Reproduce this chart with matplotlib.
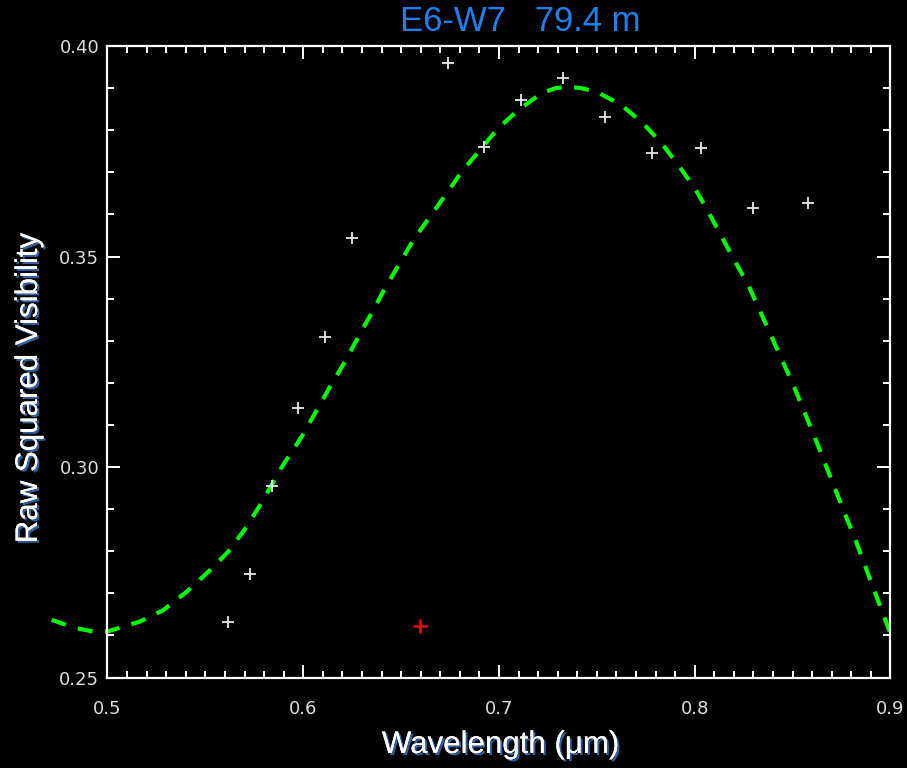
import matplotlib
matplotlib.use('Agg')
import matplotlib.pyplot as plt
import matplotlib.patheffects as pe
from matplotlib.ticker import MultipleLocator, FormatStrFormatter

# measured raw V^2 (white crosses)
wl_obs = [0.5614, 0.5728, 0.5843, 0.5972, 0.6111, 0.6248, 0.6738, 0.6925,
          0.7112, 0.7328, 0.7543, 0.7780, 0.8032, 0.8299, 0.8577]
v2_obs = [0.2631, 0.2746, 0.2956, 0.3141, 0.3309, 0.3544, 0.3960, 0.3761,
          0.3872, 0.3925, 0.3832, 0.3747, 0.3758, 0.3615, 0.3626]

# rejected point (red cross)
wl_bad = [0.6598]
v2_bad = [0.2622]

# model curve (green dashed)
wl_fit = [0.4715, 0.4834, 0.4927, 0.5004, 0.5166, 0.5285, 0.5405, 0.5524,
          0.5617, 0.5711, 0.5796, 0.5881, 0.5992, 0.6069, 0.6137, 0.6213,
          0.6281, 0.6350, 0.6418, 0.6494, 0.6562, 0.6648, 0.6733, 0.6809,
          0.6903, 0.6996, 0.7099, 0.7218, 0.7290, 0.7354, 0.7420, 0.7499,
          0.7618, 0.7729, 0.7831, 0.7916, 0.8001, 0.8069, 0.8138, 0.8206,
          0.8274, 0.8393, 0.8509, 0.8619, 0.8723, 0.8829, 0.8929, 0.8997]
v2_fit = [0.2637, 0.2618, 0.2609, 0.2610, 0.2633, 0.2660, 0.2704, 0.2755,
          0.2799, 0.2858, 0.2922, 0.2993, 0.3072, 0.3135, 0.3191, 0.3250,
          0.3309, 0.3366, 0.3425, 0.3485, 0.3539, 0.3595, 0.3650, 0.3701,
          0.3753, 0.3805, 0.3848, 0.3888, 0.3900, 0.3903, 0.3900, 0.3891,
          0.3862, 0.3820, 0.3769, 0.3717, 0.3662, 0.3606, 0.3547, 0.3488,
          0.3432, 0.3309, 0.3189, 0.3064, 0.2941, 0.2817, 0.2692, 0.2608]

fig = plt.figure(figsize=(9.07, 7.68), dpi=100, facecolor='black')
ax = fig.add_axes([0.1185, 0.1178, 0.8633, 0.8223], facecolor='black')

ax.plot(wl_fit, v2_fit, color='#00ff00', lw=3.0, dashes=(3.6, 3.0), clip_on=False)
ax.plot(wl_obs, v2_obs, ls='none', marker='+', ms=9, mew=1.3, color='#e8e8e8')
ax.plot(wl_bad, v2_bad, ls='none', marker='+', ms=10, mew=1.8, color='#ff0000')

ax.set_xlim(0.5, 0.9)
ax.set_ylim(0.25, 0.40)
ax.xaxis.set_major_locator(MultipleLocator(0.1))
ax.xaxis.set_minor_locator(MultipleLocator(0.01))
ax.yaxis.set_major_locator(MultipleLocator(0.05))
ax.yaxis.set_minor_locator(MultipleLocator(0.01))
ax.xaxis.set_major_formatter(FormatStrFormatter('%.1f'))
ax.yaxis.set_major_formatter(FormatStrFormatter('%.2f'))

for s in ax.spines.values():
    s.set_color('white')
    s.set_linewidth(1.6)

ax.tick_params(which='both', direction='in', colors='white', top=True, right=True,
               width=1.4, labelcolor='#dcdcdc', labelsize=13)
ax.tick_params(which='major', length=9.5)
ax.tick_params(which='minor', length=4.8)
ax.tick_params(axis='x', pad=16)
ax.tick_params(axis='y', pad=6)

shadow = [pe.withSimplePatchShadow(offset=(1.5, -1.5), shadow_rgbFace='#2f5f9f', alpha=1.0),
          pe.Normal()]
fig.text(0.552, 0.030, 'Wavelength (\u03bcm)', color='white', fontsize=22.5,
         family='Liberation Sans', ha='center', va='center', path_effects=shadow)
fig.text(0.032, 0.495, 'Raw Squared Visibility', color='white', fontsize=22.5,
         family='Liberation Sans', ha='center', va='center', rotation=90,
         path_effects=shadow)
fig.text(0.574, 0.972, 'E6-W7   79.4 m', color='#1a82f0', fontsize=25,
         family='Liberation Sans', ha='center', va='center')

fig.savefig('out.png', dpi=100, facecolor='black')
